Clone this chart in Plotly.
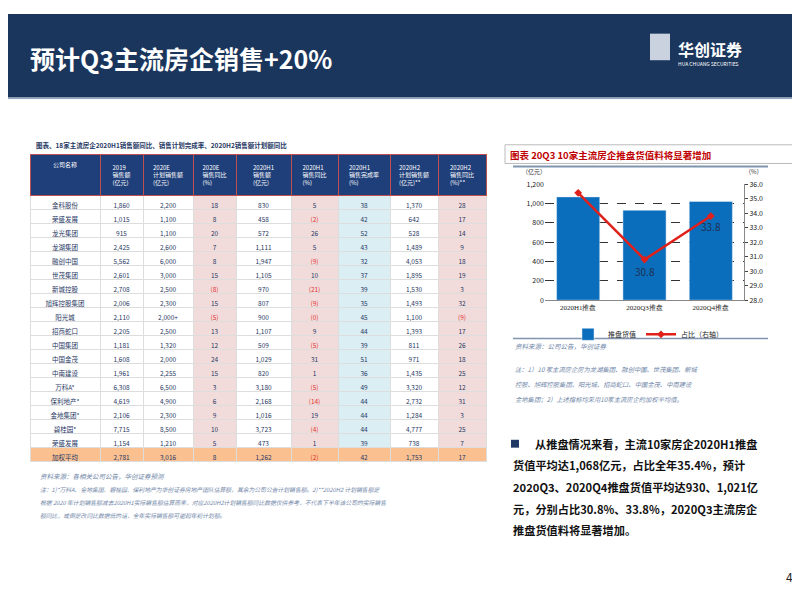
import plotly.graph_objects as go

# %% data
companies = ["金科股份", "荣盛发展", "龙光集团", "龙湖集团", "融创中国", "世茂集团", "新城控股",
             "旭辉控股集团", "阳光城", "招商蛇口", "中国集团", "中国金茂", "中南建设", "万科A*",
             "保利地产*", "金地集团*", "碧桂园*", "荣盛发展", "加权平均"]
sales_2019 = ["1,860", "1,015", "915", "2,425", "5,562", "2,601", "2,708", "2,006", "2,110", "2,205",
              "1,181", "1,608", "1,961", "6,308", "4,619", "2,106", "7,715", "1,154", "2,781"]
plan_2020 = ["2,200", "1,100", "1,100", "2,600", "6,000", "3,000", "2,500", "2,300", "2,000+", "2,500",
             "1,320", "2,000", "2,255", "6,500", "4,900", "2,300", "8,500", "1,210", "3,016"]
yoy_2020e = ["18", "8", "20", "7", "8", "15", "(8)", "15", "(5)", "13",
             "12", "24", "15", "3", "6", "9", "10", "5", "8"]
sales_h1 = ["830", "458", "572", "1,111", "1,947", "1,105", "970", "807", "900", "1,107",
            "509", "1,029", "820", "3,180", "2,168", "1,016", "3,723", "473", "1,262"]
yoy_h1 = ["5", "(2)", "26", "5", "(9)", "10", "(21)", "(9)", "(0)", "9",
          "(5)", "31", "1", "(5)", "(14)", "19", "(4)", "1", "(2)"]
done_h1 = ["38", "42", "52", "43", "32", "37", "39", "35", "45", "44",
           "39", "51", "36", "49", "44", "44", "44", "39", "42"]
plan_h2 = ["1,370", "642", "528", "1,489", "4,053", "1,895", "1,530", "1,493", "1,100", "1,393",
           "811", "971", "1,435", "3,320", "2,732", "1,284", "4,777", "738", "1,753"]
yoy_h2 = ["28", "17", "14", "9", "18", "19", "3", "32", "(9)", "17",
          "26", "18", "25", "12", "31", "3", "25", "7", "17"]

headers = ["公司名称", "2019<br>销售额<br>(亿元)", "2020E<br>计划销售额<br>(亿元)", "2020E<br>销售同比<br>(%)",
           "2020H1<br>销售额<br>(亿元)", "2020H1<br>销售同比<br>(%)", "2020H1<br>销售完成率<br>(%)",
           "2020H2<br>计划销售额<br>(亿元)**", "2020H2<br>销售同比<br>(%)**"]

launch_cats = ["2020H1推盘", "2020Q3推盘", "2020Q4推盘"]
launch_value = [1068, 930, 1021]
launch_share = [35.4, 30.8, 33.8]

# %% table
cols = [companies, sales_2019, plan_2020, yoy_2020e, sales_h1, yoy_h1, done_h1, plan_h2, yoy_h2]
col_fill = ["white", "white", "white", "#f2dcdb", "white", "#f2dcdb", "#dbeef4", "white", "#f2dcdb"]
n = len(companies)
fills = [[c] * (n - 1) + ["#fac090"] for c in col_fill]
font_colors = [["#e03030" if v.startswith("(") else "#1f3864" for v in col] for col in cols]

W, H = 800, 600
fig = go.Figure()
fig.add_trace(go.Table(
    domain=dict(x=[22 / W, 478 / W], y=[1 - 462 / H, 1 - 143 / H]),
    columnwidth=[70, 43, 50, 43, 55, 47, 52, 48, 48],
    header=dict(values=headers, fill_color="#1f3f7a", line_color="#c0504d",
                font=dict(color="white", size=6, family="Noto Sans CJK SC"), height=40, align="center"),
    cells=dict(values=cols, fill_color=fills, line_color="#dddddd",
               font=dict(color=font_colors, size=6.5, family="Noto Sans CJK SC"), height=14, align="center"),
))

# %% bar + line chart
fig.add_trace(go.Bar(x=launch_cats, y=launch_value, name="推盘货值", marker_color="#0a6ebd",
                     xaxis="x", yaxis="y"))
fig.add_trace(go.Scatter(x=launch_cats, y=launch_share, name="占比（右轴）", mode="lines+markers",
                         line=dict(color="#e0201b", width=2.5), marker=dict(symbol="diamond", size=6),
                         xaxis="x", yaxis="y2"))
for c, v, dy in zip(launch_cats, launch_share, [1.0, -0.8, -0.7]):
    fig.add_annotation(x=c, y=v + dy, xref="x", yref="y2", text=f"{v}",
                       showarrow=False, font=dict(size=10, color="#1f2f4f"))

fig.update_layout(
    width=W, height=H, margin=dict(l=0, r=0, t=0, b=0), paper_bgcolor="white", plot_bgcolor="white",
    font=dict(family="Noto Sans CJK SC", color="#222"),
    xaxis=dict(domain=[537 / W, 736 / W], anchor="y", tickfont=dict(size=7, family="Liberation Serif"),
               showline=True, linecolor="#888", ticks=""),
    yaxis=dict(domain=[1 - 291 / H, 1 - 173 / H], range=[0, 1200], dtick=200, tickformat=",",
               tickfont=dict(size=7), showgrid=True, gridcolor="#333", griddash="dash", gridwidth=0.7,
               zeroline=False),
    yaxis2=dict(overlaying="y", side="right", anchor="x", range=[28, 36], dtick=1, tickformat=".1f",
                tickfont=dict(size=7), showgrid=False, showline=True, linecolor="#888", ticks="outside",
                ticklen=3),
    legend=dict(orientation="h", x=560 / W, y=1 - 311 / H, xanchor="left", yanchor="top",
                font=dict(size=7), bgcolor="rgba(0,0,0,0)"),
    bargap=0.35,
)

# %% decorations
fig.add_shape(type="rect", xref="paper", yref="paper", x0=0, x1=1, y0=1 - 85 / H, y1=1,
              fillcolor="#1b365d", line_width=0, layer="below")
fig.add_shape(type="line", xref="paper", yref="paper", x0=0, x1=1, y0=1 - 86 / H, y1=1 - 86 / H,
              line=dict(color="#8da2c0", width=1))
fig.add_shape(type="rect", xref="paper", yref="paper", x0=497 / W, x1=1, y0=1 - 152 / H, y1=1 - 133 / H,
              line=dict(color="#bbbbbb", width=1))
fig.add_shape(type="line", xref="paper", yref="paper", x0=505 / W, x1=760 / W, y0=1 - 155 / H, y1=1 - 155 / H,
              line=dict(color="#8095b0", width=2))
fig.add_shape(type="line", xref="paper", yref="paper", x0=505 / W, x1=760 / W, y0=1 - 330 / H, y1=1 - 330 / H,
              line=dict(color="#8095b0", width=1.5))
fig.add_shape(type="rect", xref="paper", yref="paper", x0=503 / W, x1=511 / W, y0=1 - 441 / H, y1=1 - 433 / H,
              fillcolor="#1f3864", line_width=0)
fig.add_shape(type="rect", xref="paper", yref="paper", x0=642 / W, x1=662 / W, y0=1 - 47 / H, y1=1 - 20 / H,
              fillcolor="#c9d2de", line_width=0)

def note(x, y, text, size, color, anchor="left"):
    fig.add_annotation(x=x / W, y=1 - y / H, xref="paper", yref="paper", text=text, showarrow=False,
                       xanchor=anchor, yanchor="middle", align="left", font=dict(size=size, color=color))

note(20, 45, "<b>预计Q3主流房企销售+20%</b>", 25, "white")
note(668, 36, "<b>华创证券</b>", 16, "white")
note(668, 50, "HUA CHUANG SECURITIES", 5, "white")
note(26, 133, "<b>图表、18家主流房企2020H1销售额同比、销售计划完成率、2020H2销售额计划额同比</b>", 6.5, "#1f3864")
note(500, 143, "<b>图表 20Q3 10家主流房企推盘货值料将显著增加</b>", 9.5, "#c00000")
note(512, 160, "（亿元）", 6, "#333")
note(735, 160, "（%）", 6, "#333")
note(30, 470, "<i>资料来源：各相关公司公告，华创证券预测</i>", 6.5, "#6f86a8")
note(30, 484, "<i>注：1)*万科A、金地集团、碧桂园、保利地产为华创证券房地产团队估算额，其余为公司公告计划销售额。2)**2020H2 计划销售额是</i>", 5.8, "#6f86a8")
note(30, 497, "<i>根据 2020 年计划销售额减去2020H1实际销售额估算而来，对应2020H2计划销售额同比数据仅供参考，不代表下半年该公司的实际销售</i>", 5.8, "#6f86a8")
note(30, 510, "<i>额同比，或倒是改同比数据低的话，全年实际销售额可能超年初计划额。</i>", 5.8, "#6f86a8")
note(505, 338, "<i>资料来源：公司公告，华创证券</i>", 6.5, "#6f86a8")
note(505, 362, "<i>注：1）10 家主流房企房为龙湖集团、融创中国、世茂集团、新城</i>", 6.3, "#6f86a8")
note(505, 377, "<i>控股、旭辉控股集团、阳光城、招商蛇口、中国金茂、中南建设</i>", 6.3, "#6f86a8")
note(505, 392, "<i>金地集团；2）上述指标均采用10家主流房企的加权平均值。</i>", 6.3, "#6f86a8")
for i, t in enumerate(["从推盘情况来看，主流10家房企2020H1推盘",
                       "货值平均达1,068亿元，占比全年35.4%，预计",
                       "2020Q3、2020Q4推盘货值平均达930、1,021亿",
                       "元，分别占比30.8%、33.8%，2020Q3主流房企",
                       "推盘货值料将显著增加。"]):
    note(525 if i == 0 else 503, 437 + i * 22, f"<b>{t}</b>", 11.2, "#111")
note(776, 572, "4", 12, "#222")

fig.write_html("out.html")
